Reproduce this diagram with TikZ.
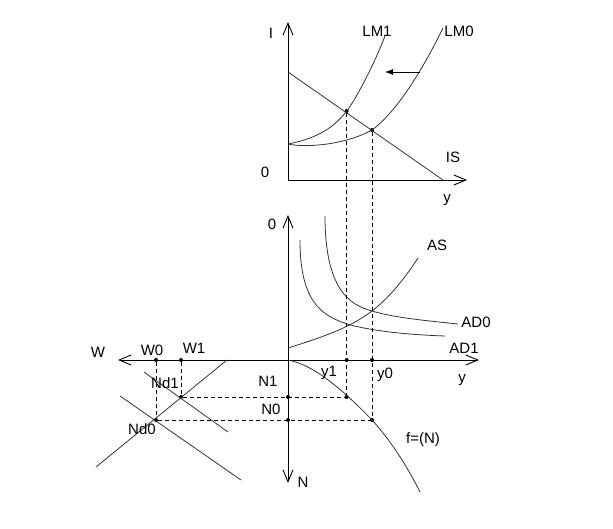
\documentclass[tikz,border=0pt]{standalone}
\usepackage{fontspec}
\setmainfont{Liberation Sans}
\usetikzlibrary{arrows.meta}

\begin{document}
\begin{tikzpicture}[x=1pt, y=-1pt,
    axis/.style={line width=0.9pt, {Straight Barb[length=12pt,width=10pt]}-{Straight Barb[length=12pt,width=10pt]}},
    onearrow/.style={line width=0.9pt, -{Straight Barb[length=12pt,width=10pt]}},
    curve/.style={line width=0.8pt, black!80},
    guide/.style={line width=0.8pt, dash pattern=on 4pt off 3pt},
    dot/.style={circle, fill, inner sep=0pt, minimum size=4pt},
    lbl/.style={font=\fontsize{15}{17}\selectfont, inner sep=0pt}]

  \useasboundingbox (0,0) rectangle (613,529);

  % IS-LM panel
  \coordinate (O1) at (288,180);
  \coordinate (Itip) at (288,22);
  \coordinate (ytip) at (467,180);
  \coordinate (ISs) at (288,72);
  \coordinate (ISe) at (443,180);
  \coordinate (LMs) at (288,144);
  \coordinate (LM1e) at (385,36);
  \coordinate (LM0e) at (443,28);
  \coordinate (Ashift) at (420,72);
  \coordinate (Bshift) at (385,72);
  \node[dot] (E1) at (346.7,111) {};
  \node[dot] (E0) at (372,130) {};

  \draw[onearrow] (O1) -- (Itip);
  \draw[onearrow] (O1) -- (ytip);
  \draw[curve] (ISs) -- (ISe);
  \draw[curve] (LMs) .. controls (320,138) and (336,125) .. (E1.center)
                     .. controls (358,96) and (375,62) .. (LM1e);
  \draw[curve] (LMs) .. controls (305,148) and (345,145) .. (E0.center)
                     .. controls (395,113) and (420,75) .. (LM0e);
  \draw[line width=0.8pt, -{Latex[length=8pt,width=6pt]}] (Ashift) -- (Bshift);

  \node[lbl] (Ilbl) at (271,33) {I};
  \node[lbl] (O1lbl) at (265,172) {0};
  \node[lbl] (y1axlbl) at (447,200) {y};
  \node[lbl] (ISlbl) at (453,157) {IS};
  \node[lbl] (LM1lbl) at (377,31) {LM1};
  \node[lbl] (LM0lbl) at (459,31) {LM0};

  % AS-AD panel and labour market
  \coordinate (O2) at (288,360);
  \coordinate (Ptip) at (288,215);
  \coordinate (Ntip) at (288,483);
  \coordinate (Wtip) at (118,360);
  \coordinate (y2tip) at (479,360);
  \coordinate (ASs) at (288,348);
  \coordinate (ASe) at (418,258);
  \coordinate (AD0s) at (325,216);
  \coordinate (AD0e) at (458,324);
  \coordinate (AD1s) at (300,240);
  \coordinate (AD1e) at (445,336);
  \coordinate (P0) at (372,311);
  \coordinate (P1) at (347,324);
  \coordinate (fe) at (420,492);
  \coordinate (Ls) at (227,360);
  \coordinate (Le) at (96,467);
  \coordinate (Nd1s) at (144,372);
  \coordinate (Nd1e) at (228,432);
  \coordinate (Nd0s) at (120,396);
  \coordinate (Nd0e) at (241,480);

  \node[dot] (W0) at (156,360) {};
  \node[dot] (W1) at (181,360) {};
  \node[dot] (Nd1) at (181,397) {};
  \node[dot] (Nd0) at (156,420) {};
  \node[dot] (N1) at (288,397) {};
  \node[dot] (N0) at (288,420) {};
  \node[dot] (y1) at (346.7,360) {};
  \node[dot] (y0) at (372,360) {};
  \node[dot] (f1) at (346.7,397) {};
  \node[dot] (f0) at (372,420) {};

  \draw[axis] (Wtip) -- (y2tip);
  \draw[axis] (Ntip) -- (Ptip);
  \draw[curve] (ASs) .. controls (320,338) and (350,328) .. (P0)
                     .. controls (390,297) and (405,278) .. (ASe);
  \draw[curve] (AD0s) .. controls (325,290) and (350,305) .. (P0)
                      .. controls (395,318) and (430,321) .. (AD0e);
  \draw[curve] (AD1s) .. controls (300,300) and (320,315) .. (P1)
                      .. controls (375,332) and (415,335) .. (AD1e);
  \draw[curve] (O2) .. controls (315,365) and (345,392) .. (f0.center)
                    .. controls (392,442) and (408,468) .. (fe);
  \draw[curve] (Ls) -- (Le);
  \draw[curve] (Nd1s) -- (Nd1e);
  \draw[curve] (Nd0s) -- (Nd0e);

  % dashed guides
  \draw[guide] (E1) -- (f1);
  \draw[guide] (E0) -- (f0);
  \draw[guide] (Nd1) -- (f1);
  \draw[guide] (Nd0) -- (f0);
  \draw[guide] (W1) -- (Nd1);
  \draw[guide] (W0) -- (Nd0);

  \node[lbl] (Plbl) at (272,224) {0};
  \node[lbl] (ASlbl) at (437,245) {AS};
  \node[lbl] (AD0lbl) at (476,322) {AD0};
  \node[lbl] (AD1lbl) at (464,348) {AD1};
  \node[lbl] (y2axlbl) at (462,380) {y};
  \node[lbl] (y1lbl) at (329,373) {y1};
  \node[lbl] (y0lbl) at (385,375) {y0};
  \node[lbl] (flbl) at (423,440) {f=(N)};
  \node[lbl] (Nlbl) at (303,482) {N};
  \node[lbl] (N1lbl) at (268,381) {N1};
  \node[lbl] (N0lbl) at (271,409) {N0};
  \node[lbl] (Nd1lbl) at (165,383) {Nd1};
  \node[lbl] (Nd0lbl) at (142,429) {Nd0};
  \node[lbl] (Wlbl) at (98,352) {W};
  \node[lbl] (W0lbl) at (152,350) {W0};
  \node[lbl] (W1lbl) at (194,348) {W1};

\end{tikzpicture}
\end{document}
